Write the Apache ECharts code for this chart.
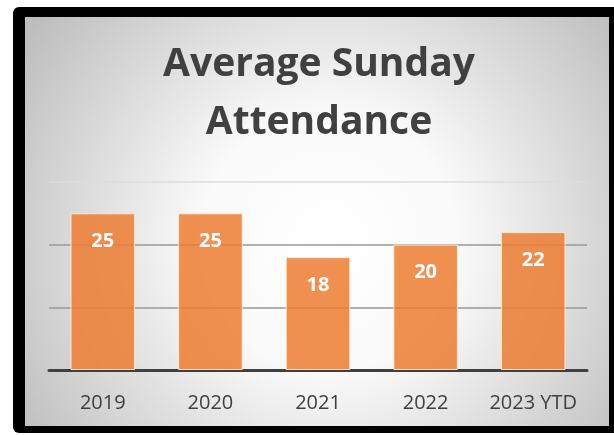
<!DOCTYPE html>
<html>
<head>
<meta charset="utf-8">
<script src="https://cdn.jsdelivr.net/npm/echarts@6/dist/echarts.min.js"></script>
<style>
  html, body { margin: 0; padding: 0; background: #fff; }
  #chart { width: 614px; height: 435px; }
</style>
</head>
<body>
<div id="chart"></div>
<script>
const years = ["2019", "2020", "2021", "2022", "2023 YTD"];
const attendance = [25, 25, 18, 20, 22];
const yTicks = [0, 10, 20, 30];

const chart = echarts.init(document.getElementById("chart"));

chart.setOption({
  animation: false,
  title: {
    text: "Average Sunday\nAttendance",
    left: 314,
    textAlign: "center",
    top: 31,
    textStyle: {
      fontFamily: "Open Sans",
      fontWeight: "bold",
      fontSize: 39,
      lineHeight: 58,
      color: "#404040"
    }
  },
  graphic: [
    {
      type: "rect",
      z: -10,
      shape: { x: 13, y: 7, width: 610, height: 426, r: 6 },
      style: { fill: "#000" }
    },
    {
      type: "rect",
      z: -9,
      shape: { x: 25, y: 17, width: 584, height: 409 },
      style: {
        fill: new echarts.graphic.RadialGradient(0.52, 0.55, 0.9, [
          { offset: 0, color: "#ffffff" },
          { offset: 0.35, color: "#fafafa" },
          { offset: 1, color: "#bdbdbd" }
        ])
      }
    }
  ],
  grid: { left: 49, right: 27, top: 182, bottom: 65 },
  xAxis: {
    type: "category",
    data: years,
    axisTick: { show: false },
    axisLine: { lineStyle: { color: "#404040", width: 3 } },
    axisLabel: {
      interval: 0,
      margin: 23,
      fontFamily: "Open Sans",
      fontSize: 20,
      color: "#404040"
    }
  },
  yAxis: {
    type: "value",
    min: yTicks[0],
    max: yTicks[yTicks.length - 1],
    interval: 10,
    axisLabel: { show: false },
    axisLine: { show: false },
    axisTick: { show: false },
    splitLine: {
      lineStyle: { color: ["#999", "#999", "#999", "#dcdcdc"], width: 1.5 }
    }
  },
  series: [
    {
      type: "bar",
      data: attendance,
      barWidth: "60%",
      itemStyle: {
        color: "rgba(237,125,49,0.85)",
        borderColor: "rgba(255,235,215,0.9)",
        borderWidth: 1
      },
      label: {
        show: true,
        position: "insideTop",
        distance: 18,
        fontFamily: "Open Sans",
        fontWeight: "bold",
        fontSize: 20,
        color: "#fff"
      }
    }
  ]
});
</script>
</body>
</html>
